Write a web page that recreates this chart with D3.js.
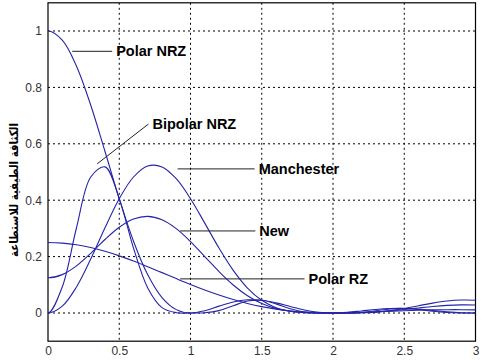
<!DOCTYPE html>
<html><head><meta charset="utf-8">
<script src="https://cdn.jsdelivr.net/npm/d3@7"></script>
<style>body{margin:0;background:#fff}svg{display:block}</style>
</head><body>
<svg id="c" width="481" height="360"></svg>
<script>
// spectra are even in frequency; the -0.1 and 3.1 samples lie outside the clipped plot
const freq = [-0.1,0,0.1,0.2,0.3,0.4,0.5,0.6,0.7,0.8,0.9,1.0,1.1,1.2,1.3,1.4,1.5,1.6,1.7,1.8,1.9,2.0,2.1,2.2,2.3,2.4,2.5,2.6,2.7,2.8,2.9,3.0,3.1];
const polarNRZ = [0.96753,1,0.96753,0.87514,0.73684,0.57279,0.40528,0.25457,0.13534,0.05470,0.01194,0,0.00800,0.02431,0.03924,0.04676,0.04503,0.03580,0.02295,0.01080,0.00268,0,0.00219,0.00723,0.01254,0.01591,0.01621,0.01356,0.00910,0.00447,0.00115,0,0.00101];
const bipolarNRZ = [0.09239,0,0.09239,0.30235,0.48227,0.51810,0.40528,0.23026,0.08858,0.01890,0.00114,0,0.00076,0.00840,0.02568,0.04229,0.04503,0.03238,0.01502,0.00373,0.00026,0,0.00021,0.00250,0.00821,0.01439,0.01621,0.01227,0.00596,0.00154,0.00011,0,0.00010];
const manchester = [0.02427,0,0.02427,0.09239,0.19130,0.30235,0.40528,0.48227,0.52131,0.51810,0.47617,0.40528,0.31875,0.23026,0.15115,0.08858,0.04503,0.01890,0.00596,0.00114,0.00007,0,0.00006,0.00076,0.00325,0.00840,0.01621,0.02568,0.03504,0.04229,0.04586,0.04503,0.04013];
const newCode = [0.13611,0.125,0.13611,0.16714,0.21167,0.26057,0.30396,0.33324,0.34274,0.33065,0.29910,0.25330,0.20022,0.14695,0.09938,0.06121,0.03378,0.01629,0.00660,0.00207,0.00038,0,0.00031,0.00138,0.00360,0.00724,0.01216,0.01775,0.02304,0.02699,0.02881,0.02815,0.02521];
const polarRZ = [0.24794,0.25,0.24794,0.24188,0.23204,0.21879,0.20264,0.18421,0.16416,0.14320,0.12203,0.10132,0.08169,0.06364,0.04760,0.03384,0.02252,0.01368,0.00723,0.00299,0.00069,0,0.00056,0.00200,0.00395,0.00608,0.00811,0.00981,0.01104,0.01169,0.01175,0.01126,0.01029];
const xTicks = [0,0.5,1,1.5,2,2.5,3];
const xTickLabels = ["0","0.5","1","1.5","2","2.5","3"];
const yTicks = [0,0.2,0.4,0.6,0.8,1];
const yTickLabels = ["0","0.2","0.4","0.6","0.8","1"];
const yLabel = "الكثافة الطيفية للاستطاعة";
const labels = ["Polar NRZ","Bipolar NRZ","Manchester","New","Polar RZ"];
const labelFrom = [[0.17,0.928],[0.345,0.529],[0.91,0.511],[0.927,0.291],[0.927,0.121]];
const labelTo = [[0.45,0.928],[0.705,0.67],[1.45,0.511],[1.455,0.291],[1.8,0.121]];

const svg = d3.select("#c");
const L=48,R=475.5,T=2.8,B=341.2;
const x = d3.scaleLinear().domain([0,3]).range([L,R]);
const y = d3.scaleLinear().domain([-0.1,1.1]).range([B,T]);

svg.append("defs").append("clipPath").attr("id","clip").append("rect")
  .attr("x",L).attr("y",T).attr("width",R-L).attr("height",B-T);

const g = svg.append("g");
g.selectAll(".gx").data(xTicks.slice(1,-1)).enter().append("line")
  .attr("x1",d=>x(d)).attr("x2",d=>x(d)).attr("y1",T).attr("y2",B)
  .attr("stroke","#000").attr("stroke-width",1).attr("stroke-dasharray","2,3");
g.selectAll(".gy").data(yTicks).enter().append("line")
  .attr("y1",d=>y(d)).attr("y2",d=>y(d)).attr("x1",L).attr("x2",R)
  .attr("stroke","#000").attr("stroke-width",1).attr("stroke-dasharray","2,3");

const xAxis = d3.axisBottom(x).tickValues(xTicks).tickFormat((d,i)=>xTickLabels[i]).tickSize(0).tickPadding(5);
const yAxis = d3.axisLeft(y).tickValues(yTicks).tickFormat((d,i)=>yTickLabels[i]).tickSize(0).tickPadding(6);
const ax = svg.append("g").attr("transform",`translate(0,${B})`).call(xAxis);
const ay = svg.append("g").attr("transform",`translate(${L},0)`).call(yAxis);
[ax,ay].forEach(a=>{a.select(".domain").remove();
  a.selectAll("text").attr("font-family","Liberation Sans, Arial, sans-serif").attr("font-size",12).attr("fill","#333");});

svg.append("rect").attr("x",L).attr("y",T).attr("width",R-L).attr("height",B-T)
  .attr("fill","none").attr("stroke","#000").attr("stroke-width",1.2);

const line = d3.line().x((d,i)=>x(freq[i])).y(d=>y(d)).curve(d3.curveCatmullRom.alpha(0.5));
const cg = svg.append("g").attr("clip-path","url(#clip)");
[polarNRZ,bipolarNRZ,manchester,newCode,polarRZ].forEach(s=>{
  cg.append("path").attr("d",line(s)).attr("fill","none")
    .attr("stroke","#2424a8").attr("stroke-width",1.1);
});

labels.forEach((t,i)=>{
  svg.append("line").attr("x1",x(labelFrom[i][0])).attr("y1",y(labelFrom[i][1]))
    .attr("x2",x(labelTo[i][0])).attr("y2",y(labelTo[i][1]))
    .attr("stroke","#222").attr("stroke-width",1);
  svg.append("text").attr("x",x(labelTo[i][0])+4).attr("y",y(labelTo[i][1]))
    .attr("dy","0.35em").attr("font-family","Liberation Sans, Arial, sans-serif")
    .attr("font-weight","bold").attr("font-size",14.5).attr("fill","#000").text(t);
});

svg.append("text").attr("transform","translate(14,190) rotate(-90)")
  .attr("text-anchor","middle").attr("dy","0.35em")
  .attr("font-family","DejaVu Sans, Noto Sans, sans-serif").attr("font-weight","bold")
  .attr("font-size",12).attr("textLength",134).attr("lengthAdjust","spacingAndGlyphs")
  .attr("fill","#000").text(yLabel);
</script>
</body></html>
